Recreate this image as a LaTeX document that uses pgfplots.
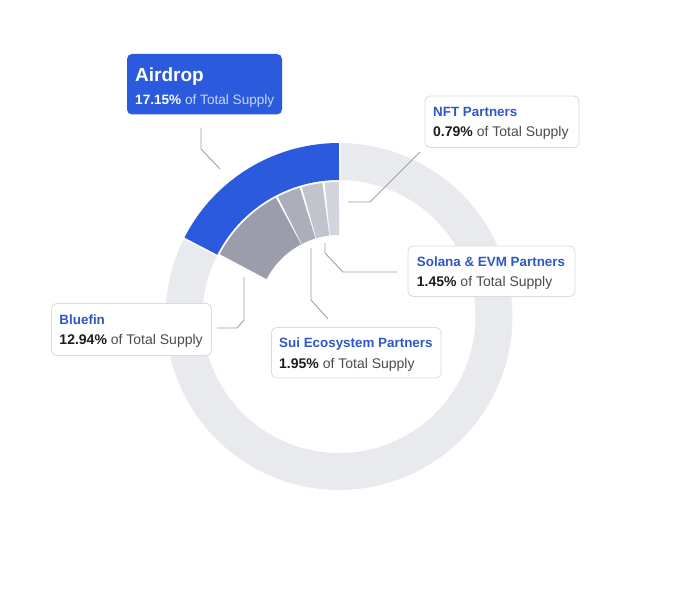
\documentclass[border=0pt]{standalone}
\usepackage{pgfplots}
\pgfplotsset{compat=1.18}
\usepackage{fontspec}
\setmainfont{Liberation Sans}
\definecolor{airblue}{RGB}{43,91,220}
\definecolor{titleblue}{RGB}{47,88,196}
\definecolor{ringgray}{RGB}{232,234,238}
\definecolor{bluefin}{RGB}{155,157,172}
\definecolor{sui}{RGB}{172,174,186}
\definecolor{solana}{RGB}{194,196,205}
\definecolor{nft}{RGB}{212,213,220}
\definecolor{linegray}{RGB}{160,160,164}
\definecolor{boxgray}{RGB}{218,220,224}
\definecolor{darktext}{RGB}{28,28,30}
\definecolor{softtext}{RGB}{75,75,80}
\definecolor{airsoft}{RGB}{200,213,246}
\newcommand{\ttl}{\fontsize{13.4bp}{16bp}\selectfont\bfseries}
\newcommand{\sub}{\fontsize{14bp}{16bp}\selectfont}
\begin{document}
\begin{tikzpicture}
\begin{axis}[
  x=1bp, y=1bp, y dir=reverse,
  xmin=0, xmax=680, ymin=0, ymax=590,
  hide axis, scale only axis, clip=false,
]
\path (axis cs:0,0) rectangle (axis cs:680,590);
% background ring (centre 339,316.5; radii 136.5--173.5)
\addplot[draw=ringgray, line width=37bp, domain=0:372, samples=240, variable=\t]
  ({339+155*cos(\t)}, {316.5-155*sin(\t)});
% white gap around the Airdrop segment
\addplot[draw=white, line width=40bp, domain=89.4:153.6, samples=60, variable=\t]
  ({339+155*cos(\t)}, {316.5-155*sin(\t)});
% Airdrop 17.15%: 90 -> 153 deg
\addplot[draw=airblue, line width=37bp, domain=90:153, samples=60, variable=\t]
  ({339+155*cos(\t)}, {316.5-155*sin(\t)});
% inner segments (radii 81.5--134.5)
% NFT Partners 0.79%: 90 -> 96.6
\addplot[draw=nft, line width=53bp, domain=90:96.2, samples=8, variable=\t]
  ({339+108*cos(\t)}, {316.5-108*sin(\t)});
% Solana & EVM Partners 1.45%: 96.6 -> 106.5
\addplot[draw=solana, line width=53bp, domain=97.0:106.1, samples=10, variable=\t]
  ({339+108*cos(\t)}, {316.5-108*sin(\t)});
% Sui Ecosystem Partners 1.95%: 106.5 -> 117.5
\addplot[draw=sui, line width=53bp, domain=106.9:117.1, samples=12, variable=\t]
  ({339+108*cos(\t)}, {316.5-108*sin(\t)});
% Bluefin 12.94%: 117.5 -> 152.5
\addplot[draw=bluefin, line width=53bp, domain=117.9:152.5, samples=40, variable=\t]
  ({339+108*cos(\t)}, {316.5-108*sin(\t)});

% leader lines
\draw[linegray, line width=0.9bp] (axis cs:201,128) -- (axis cs:201,149) -- (axis cs:220,169);
\draw[linegray, line width=0.9bp] (axis cs:348,202) -- (axis cs:370,202) -- (axis cs:420,152);
\draw[linegray, line width=0.9bp] (axis cs:325,243) -- (axis cs:325,253) -- (axis cs:343,272) -- (axis cs:397,272);
\draw[linegray, line width=0.9bp] (axis cs:311,248) -- (axis cs:311,300) -- (axis cs:328,319);
\draw[linegray, line width=0.9bp] (axis cs:244,277) -- (axis cs:244,320) -- (axis cs:237,328) -- (axis cs:217,328);

% boxes
\fill[airblue, rounded corners=5bp] (axis cs:127,54) rectangle (axis cs:282,114.5);
\draw[boxgray, fill=white, rounded corners=5bp, line width=0.9bp] (axis cs:425,96) rectangle (axis cs:579,147.5);
\draw[boxgray, fill=white, rounded corners=5bp, line width=0.9bp] (axis cs:408,246) rectangle (axis cs:575,296.5);
\draw[boxgray, fill=white, rounded corners=5bp, line width=0.9bp] (axis cs:271.5,327.5) rectangle (axis cs:441,378);
\draw[boxgray, fill=white, rounded corners=5bp, line width=0.9bp] (axis cs:51.5,303.5) rectangle (axis cs:211.5,355.5);

% texts
\node[anchor=base west, inner sep=0pt, text=white, font=\fontsize{19bp}{22bp}\selectfont\bfseries] at (axis cs:135,81.5) {Airdrop};
\node[anchor=base west, inner sep=0pt, font=\fontsize{13.6bp}{16bp}\selectfont] at (axis cs:135,104.3) {\textcolor{white}{\bfseries 17.15\%} \textcolor{airsoft}{of Total Supply}};

\node[anchor=base west, inner sep=0pt, text=titleblue, font=\ttl] at (axis cs:433,116.7) {NFT Partners};
\node[anchor=base west, inner sep=0pt, font=\sub] at (axis cs:433,136.7) {\textcolor{darktext}{\bfseries 0.79\%} \textcolor{softtext}{of Total Supply}};

\node[anchor=base west, inner sep=0pt, text=titleblue, font=\ttl] at (axis cs:416.7,266.7) {Solana \& EVM Partners};
\node[anchor=base west, inner sep=0pt, font=\sub] at (axis cs:416.7,286.7) {\textcolor{darktext}{\bfseries 1.45\%} \textcolor{softtext}{of Total Supply}};

\node[anchor=base west, inner sep=0pt, text=titleblue, font=\ttl] at (axis cs:279,347.3) {Sui Ecosystem Partners};
\node[anchor=base west, inner sep=0pt, font=\sub] at (axis cs:279,368.3) {\textcolor{darktext}{\bfseries 1.95\%} \textcolor{softtext}{of Total Supply}};

\node[anchor=base west, inner sep=0pt, text=titleblue, font=\ttl] at (axis cs:59.3,324.3) {Bluefin};
\node[anchor=base west, inner sep=0pt, font=\sub] at (axis cs:59.3,344.3) {\textcolor{darktext}{\bfseries 12.94\%} \textcolor{softtext}{of Total Supply}};
\end{axis}
\end{tikzpicture}
\end{document}
